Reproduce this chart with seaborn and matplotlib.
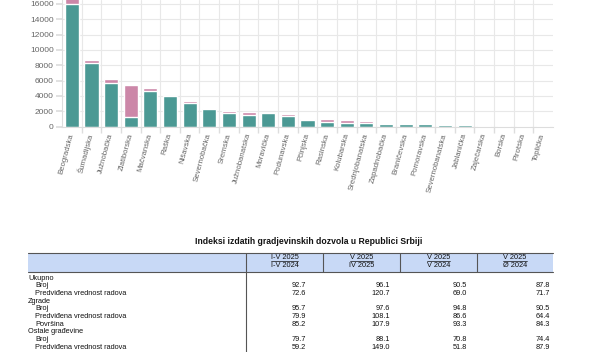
import matplotlib
matplotlib.use("Agg")
import matplotlib.pyplot as plt
import seaborn as sns
import pandas as pd
import numpy as np
from matplotlib.patches import Rectangle
from matplotlib.lines import Line2D

regions = ["Beogradska", "Šumadijska", "Južnobačka", "Zlatiborska", "Mačvanska", "Raška",
           "Nišavska", "Severnobačka", "Sremska", "Južnobanatska", "Moravička", "Podunavska",
           "Pčinjska", "Rasinska", "Kolubarska", "Srednjobanatska", "Zapadnobačka",
           "Braničevska", "Pomoravska", "Severnobanatska", "Jablanička", "Zaječarska",
           "Borska", "Pirotska", "Toplička"]
teal_vals = [16000, 8250, 5720, 1200, 4680, 3980, 3030, 2250, 1800, 1460, 1800, 1370,
             850, 590, 500, 500, 330, 330, 300, 260, 260, 70, 50, 30, 40]
pink_vals = [1300, 430, 520, 4260, 310, 0, 260, 0, 260, 430, 0, 220,
             170, 350, 350, 180, 0, 0, 0, 0, 0, 130, 50, 40, 30]
y_ticks = [0, 2000, 4000, 6000, 8000, 10000, 12000, 14000, 16000]

table_title = "Indeksi izdatih gradjevinskih dozvola u Republici Srbiji"
header_top = ["I-V 2025", "V 2025", "V 2025", "V 2025"]
header_bottom = ["I-V 2024", "IV 2025", "V 2024", "Ø 2024"]
row_labels = ["Ukupno", "Broj", "Predviđena vrednost radova", "Zgrade", "Broj",
              "Predviđena vrednost radova", "Površina", "Ostale građevine", "Broj",
              "Predviđena vrednost radova"]
row_indent = [0, 1, 1, 0, 1, 1, 1, 0, 1, 1]
col1 = [None, 92.7, 72.6, None, 95.7, 79.9, 85.2, None, 79.7, 59.2]
col2 = [None, 96.1, 120.7, None, 97.6, 108.1, 107.9, None, 88.1, 149.0]
col3 = [None, 90.5, 69.0, None, 94.8, 86.6, 93.3, None, 70.8, 51.8]
col4 = [None, 87.8, 71.7, None, 90.5, 64.4, 84.3, None, 74.4, 87.9]

TEAL = "#4b9994"
PINK = "#cc87a8"
GRID = "#e8e8e8"
TXT = "#666666"

sns.set_theme(style="white")
plt.rcParams['font.family'] = ['Liberation Sans', 'DejaVu Sans']

W, H = 600, 352
fig = plt.figure(figsize=(6, 3.52), dpi=100)


def fx(x):
    return x / W


def fy(y):
    return 1 - y / H


ax = fig.add_axes([fx(62), fy(126.5), fx(553) - fx(62), 126.5 / H])

df = pd.DataFrame({"region": regions, "teal": teal_vals, "pink": pink_vals})
df["total"] = df["teal"] + df["pink"]
sns.barplot(data=df, x="region", y="total", order=regions, color=PINK, saturation=1,
            width=0.72, errorbar=None, ax=ax)
sns.barplot(data=df, x="region", y="teal", order=regions, color=TEAL, saturation=1,
            width=0.72, errorbar=None, ax=ax)

ax.set_xlim(-0.5, len(regions) - 0.5)
ax.set_ylim(0, 16522)
ax.set_yticks(y_ticks)
ax.set_yticklabels([str(v) for v in y_ticks])
ax.set_xticks(np.arange(0.5, len(regions) - 0.5, 1), minor=True)
ax.set_axisbelow(True)
ax.yaxis.grid(True, color=GRID, lw=0.8)
ax.xaxis.grid(True, which="minor", color=GRID, lw=0.8)
ax.xaxis.grid(False, which="major")
ax.set_xlabel("")
ax.set_ylabel("")
for s in ["top", "right"]:
    ax.spines[s].set_visible(False)
for s in ["left", "bottom"]:
    ax.spines[s].set_color("#dddddd")
    ax.spines[s].set_linewidth(0.8)
ax.tick_params(axis="y", length=4, color="#dddddd", labelsize=6, labelcolor=TXT, pad=2, left=True)
ax.tick_params(axis="x", which="major", length=0, pad=5, labelsize=5.6, labelcolor=TXT)
ax.tick_params(axis="x", which="minor", length=4, color="#dddddd", bottom=True)
for lab in ax.get_xticklabels():
    lab.set_rotation(75)
    lab.set_ha("right")
    lab.set_va("center")
    lab.set_rotation_mode("anchor")

# ---- table ----
fs = 5.3
fig.text(fx(309), fy(244.5), table_title, ha="center", va="baseline", fontsize=6.2,
         fontweight="bold", color="#111111")
fig.patches.append(Rectangle((fx(28), fy(272)), fx(553) - fx(28), (272 - 253) / H,
                             transform=fig.transFigure, facecolor="#c8d9f6",
                             edgecolor="none", zorder=0))
for yy in (253, 272):
    fig.lines.append(Line2D([fx(28), fx(553)], [fy(yy), fy(yy)], transform=fig.transFigure,
                            color="#555555", lw=0.8))
fig.lines.append(Line2D([fx(246), fx(246)], [fy(253), fy(352)], transform=fig.transFigure,
                        color="#555555", lw=0.8))
for xx in (323, 400, 477):
    fig.lines.append(Line2D([fx(xx), fx(xx)], [fy(253), fy(272)], transform=fig.transFigure,
                            color="#555555", lw=0.8))

col_centers = [284.5, 361.5, 438.5, 515]
renderer = fig.canvas.get_renderer()
for cx, t1, t2 in zip(col_centers, header_top, header_bottom):
    tt = fig.text(fx(cx), fy(259.3), t1, ha="center", va="baseline", fontsize=fs, color="#111111")
    fig.text(fx(cx), fy(267.0), t2, ha="center", va="baseline", fontsize=fs, color="#111111")
    bb = tt.get_window_extent(renderer=renderer)
    fig.lines.append(Line2D([bb.x0 / W, bb.x1 / W], [fy(260.6), fy(260.6)],
                            transform=fig.transFigure, color="#111111", lw=0.5))

row_base = [279.5 + 7.67 * k for k in range(len(row_labels))]
value_right = [306, 390, 467, 550]
for i, (lab, ind) in enumerate(zip(row_labels, row_indent)):
    fig.text(fx(28 + 7 * ind), fy(row_base[i]), lab, ha="left", va="baseline", fontsize=fs,
             color="#111111")
    for xr, col in zip(value_right, (col1, col2, col3, col4)):
        v = col[i]
        if v is not None:
            fig.text(fx(xr), fy(row_base[i]), f"{v:.1f}", ha="right", va="baseline",
                     fontsize=fs, color="#111111")

fig.savefig("out.png", dpi=100)
